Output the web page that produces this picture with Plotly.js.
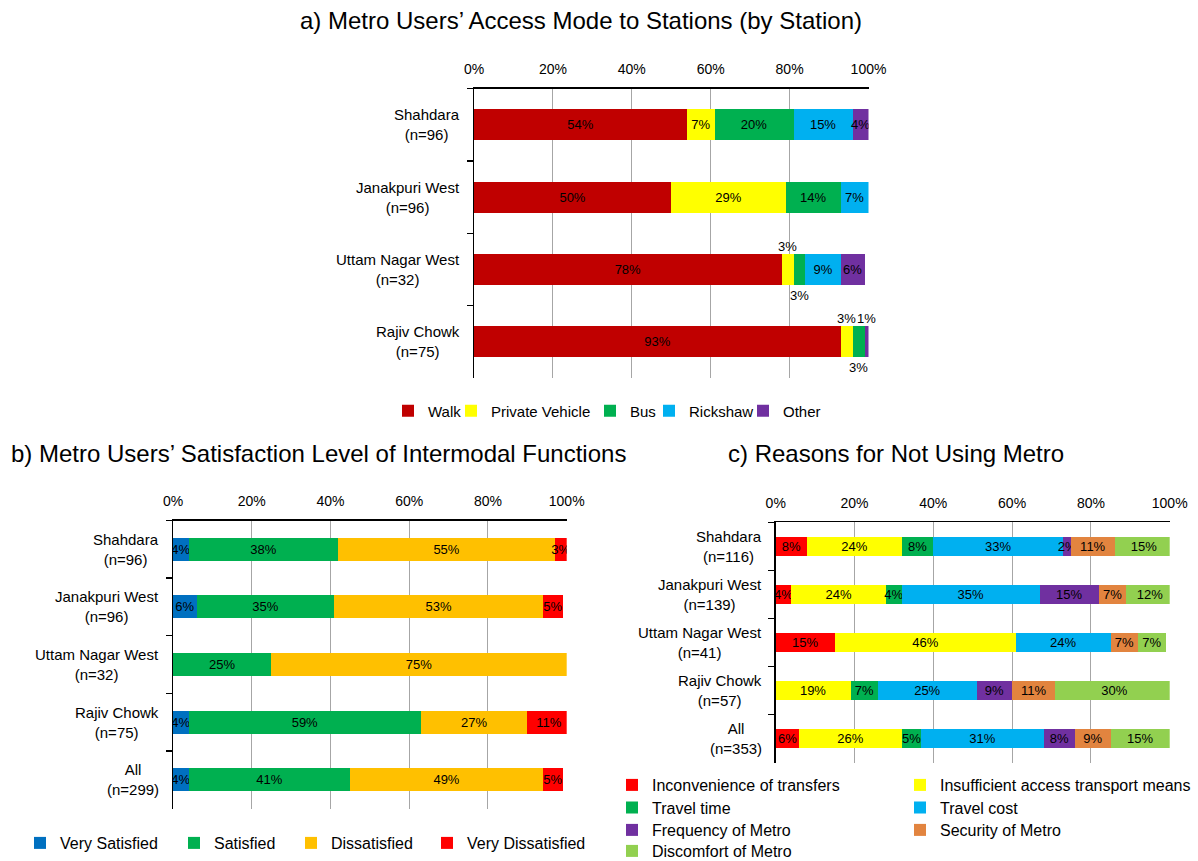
<!DOCTYPE html>
<html>
<head>
<meta charset="utf-8">
<script src="https://cdn.plot.ly/plotly-3.0.1.min.js"></script>
<style>
  html, body { margin: 0; padding: 0; background: #ffffff; }
  #chart { width: 1198px; height: 861px; }
</style>
</head>
<body>
<div id="chart"></div>
<script>
// ---- a) Access mode to stations ----
const stationsA = ['Shahdara', 'Janakpuri West', 'Uttam Nagar West', 'Rajiv Chowk'];
const samplesA = [96, 96, 32, 75];
const modeNames = ['Walk', 'Private Vehicle', 'Bus', 'Rickshaw', 'Other'];
const walk = [54, 50, 78, 93];
const privateVehicle = [7, 29, 3, 3];
const bus = [20, 14, 3, 3];
const rickshaw = [15, 7, 9, 0];
const otherMode = [4, 0, 6, 1];

// ---- b) Satisfaction with intermodal functions ----
const stationsB = ['Shahdara', 'Janakpuri West', 'Uttam Nagar West', 'Rajiv Chowk', 'All'];
const samplesB = [96, 96, 32, 75, 299];
const satisfactionNames = ['Very Satisfied', 'Satisfied', 'Dissatisfied', 'Very Dissatisfied'];
const verySatisfied = [4, 6, 0, 4, 4];
const satisfied = [38, 35, 25, 59, 41];
const dissatisfied = [55, 53, 75, 27, 49];
const veryDissatisfied = [3, 5, 0, 11, 5];

// ---- c) Reasons for not using metro ----
const stationsC = ['Shahdara', 'Janakpuri West', 'Uttam Nagar West', 'Rajiv Chowk', 'All'];
const samplesC = [116, 139, 41, 57, 353];
const reasonNames = ['Inconvenience of transfers', 'Insufficient access transport means',
  'Travel time', 'Travel cost', 'Frequency of Metro', 'Security of Metro', 'Discomfort of Metro'];
const inconvenience = [8, 4, 15, 0, 6];
const insufficientAccess = [24, 24, 46, 19, 26];
const travelTime = [8, 4, 0, 7, 5];
const travelCost = [33, 35, 24, 25, 31];
const frequency = [2, 15, 0, 9, 8];
const security = [11, 7, 7, 11, 9];
const discomfort = [15, 12, 7, 30, 15];

const tickValues = [0, 20, 40, 60, 80, 100];
const tickLabels = ['0%', '20%', '40%', '60%', '80%', '100%'];

// ---- styling ----
const W = 1198, H = 861;
const FONT = 'Liberation Sans, Arial, sans-serif';
const px = v => v / W;
const py = v => 1 - v / H;

const modeColors = ['#C00000', '#FFFF00', '#00B050', '#00B0F0', '#7030A0'];
const satisfactionColors = ['#0070C0', '#00B050', '#FFC000', '#FF0000'];
const reasonColors = ['#FF0000', '#FFFF00', '#00B050', '#00B0F0', '#7030A0', '#E2843F', '#92D050'];

// segments this narrow in chart a carry their label just outside the bar
const OUTSIDE_MAX = 3;
const outsideSide = [null, 'above', 'below', null, 'above'];

// one legend per entry so each key sits where it belongs:
// [left edge of the entry text, centre y] in page px, plus font size
const keySpotsA = [[428, 411], [491, 411], [630, 411], [689, 411], [783, 411]];
const keySpotsB = [[60, 843], [214, 843], [331, 843], [467, 843]];
const keySpotsC = [[652, 785], [940, 785], [652, 807.5], [940, 807.5], [652, 830], [940, 830], [652, 851]];

const legends = {};
let legendCount = 0;
function nextLegend(spot, size) {
  legendCount += 1;
  const id = legendCount === 1 ? 'legend' : 'legend' + legendCount;
  legends[id] = {
    orientation: 'h', x: px(spot[0] - 40), y: py(spot[1]),
    xanchor: 'left', yanchor: 'middle',
    font: { family: FONT, size: size, color: '#000000' },
    bgcolor: 'rgba(0,0,0,0)', borderwidth: 0
  };
  return id;
}

function barTrace(name, vals, cats, color, xa, ya, legend, width, labelFilter) {
  return {
    type: 'bar', orientation: 'h', name: name,
    x: vals, y: cats, xaxis: xa, yaxis: ya, legend: legend,
    width: width,
    marker: { color: color, line: { width: 0 } },
    text: vals.map(v => (v > 0 && labelFilter(v)) ? v + '%' : ''),
    textposition: 'inside', insidetextanchor: 'middle',
    textangle: 0, constraintext: 'none',
    insidetextfont: { family: FONT, size: 13, color: '#000000' },
    hoverinfo: 'skip'
  };
}

const seriesA = [walk, privateVehicle, bus, rickshaw, otherMode];
const seriesB = [verySatisfied, satisfied, dissatisfied, veryDissatisfied];
const seriesC = [inconvenience, insufficientAccess, travelTime, travelCost, frequency, security, discomfort];

const traces = [];
seriesA.forEach((vals, k) => traces.push(
  barTrace(modeNames[k], vals, stationsA, modeColors[k], 'x', 'y', nextLegend(keySpotsA[k], 15), 0.43,
    v => !(outsideSide[k] && v <= OUTSIDE_MAX))));
seriesB.forEach((vals, k) => traces.push(
  barTrace(satisfactionNames[k], vals, stationsB, satisfactionColors[k], 'x2', 'y2', nextLegend(keySpotsB[k], 16), 0.40,
    () => true)));
seriesC.forEach((vals, k) => traces.push(
  barTrace(reasonNames[k], vals, stationsC, reasonColors[k], 'x3', 'y3', nextLegend(keySpotsC[k], 16), 0.40,
    () => true)));

// ---- axes ----
function xAxis(domain, anchor) {
  return {
    domain: domain, anchor: anchor, side: 'top', range: [0, 100],
    tickmode: 'array', tickvals: tickValues, ticktext: tickLabels,
    showgrid: true, gridcolor: '#a6a6a6', gridwidth: 1,
    showline: true, linecolor: '#000000', linewidth: 1.5,
    ticks: '', zeroline: false, fixedrange: true, ticklabelstandoff: 7,
    tickfont: { family: FONT, size: 14, color: '#000000' }
  };
}
function yAxis(domain, anchor) {
  return {
    domain: domain, anchor: anchor, type: 'category', autorange: 'reversed',
    showticklabels: false, ticks: 'outside', tickson: 'boundaries',
    ticklen: 6, tickwidth: 1.5, tickcolor: '#000000',
    showline: true, linecolor: '#000000', linewidth: 1.5,
    showgrid: false, zeroline: false, fixedrange: true
  };
}

// plot-area edges in page pixels
const boxA = { l: 474, r: 868.5, t: 88.5, b: 378 };
const boxB = { l: 173, r: 566.7, t: 520.5, b: 808.5 };
const boxC = { l: 775.7, r: 1169.7, t: 522.3, b: 762.7 };

const annotations = [];

// panel titles
function title(text, x, y) {
  annotations.push({ text: text, xref: 'paper', yref: 'paper', x: px(x), y: py(y),
    xanchor: 'center', yanchor: 'middle', showarrow: false,
    font: { family: FONT, size: 24, color: '#000000' } });
}
title('a) Metro Users\u2019 Access Mode to Stations (by Station)', 581, 20);
title('b) Metro Users\u2019 Satisfaction Level of Intermodal Functions', 318, 453);
title('c) Reasons for Not Using Metro', 896, 453);

// category labels, two centred lines each
function categoryLabels(stations, samples, yref, box) {
  stations.forEach((s, i) => annotations.push({
    text: s + '<br>(n=' + samples[i] + ')', xref: 'paper', yref: yref,
    x: px(box.l - 12), y: s, xanchor: 'right', yanchor: 'middle', align: 'center',
    showarrow: false, font: { family: FONT, size: 15, color: '#000000' }
  }));
}
categoryLabels(stationsA, samplesA, 'y', boxA);
categoryLabels(stationsB, samplesB, 'y2', boxB);
categoryLabels(stationsC, samplesC, 'y3', boxC);

// outside labels for the narrow segments of chart a
stationsA.forEach((s, i) => {
  let start = 0;
  seriesA.forEach((vals, k) => {
    const v = vals[i];
    if (v > 0 && outsideSide[k] && v <= OUTSIDE_MAX) {
      annotations.push({
        text: v + '%', xref: 'x', yref: 'y', x: start + v / 2, y: s,
        xanchor: 'center', yanchor: 'middle', showarrow: false,
        yshift: outsideSide[k] === 'above' ? 23 : -26,
        font: { family: FONT, size: 13, color: '#000000' }
      });
    }
    start += v;
  });
});

const layout = Object.assign({
  width: W, height: H,
  margin: { l: 0, r: 0, t: 0, b: 0, autoexpand: false },
  paper_bgcolor: '#ffffff', plot_bgcolor: '#ffffff',
  font: { family: FONT, color: '#000000' },
  barmode: 'stack',
  showlegend: true,
  xaxis: xAxis([px(boxA.l), px(boxA.r)], 'y'),
  yaxis: yAxis([py(boxA.b), py(boxA.t)], 'x'),
  xaxis2: xAxis([px(boxB.l), px(boxB.r)], 'y2'),
  yaxis2: yAxis([py(boxB.b), py(boxB.t)], 'x2'),
  xaxis3: xAxis([px(boxC.l), px(boxC.r)], 'y3'),
  yaxis3: yAxis([py(boxC.b), py(boxC.t)], 'x3'),
  annotations: annotations
}, legends);

Plotly.newPlot('chart', traces, layout, { displayModeBar: false, staticPlot: true });
</script>
</body>
</html>
